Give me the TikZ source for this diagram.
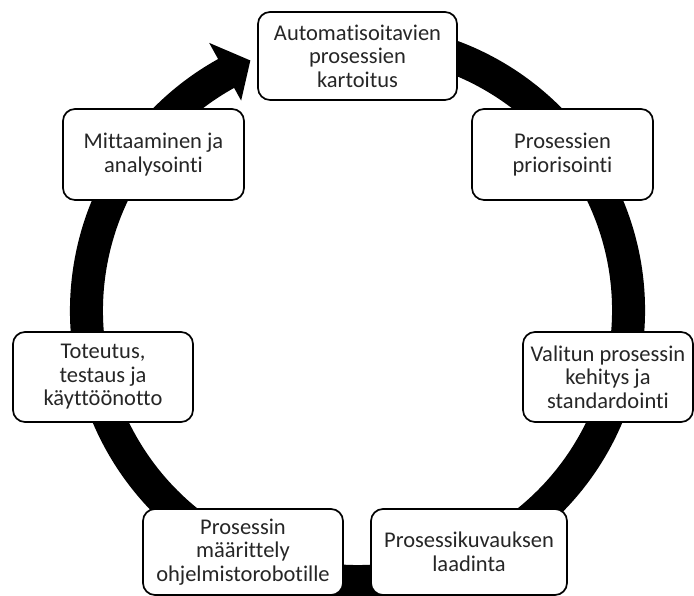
\documentclass[tikz,border=0pt]{standalone}
\usepackage{fontspec}
\setmainfont{Carlito}[Ligatures={NoCommon}]
\usetikzlibrary{calc}
\tikzset{vaihe/.style={draw,fill=white,rounded corners=0.3cm,line width=1.2pt,
  align=center,inner sep=1pt,text=black!85,font=\fontsize{16}{16.7}\selectfont}}

\begin{document}
\begin{tikzpicture}
\useasboundingbox (0,0) rectangle (17.35,14.9);
\coordinate (c) at (8.9375,7.1375);
% kehä ja nuolenkärki
\fill (c) ++(80:7.1875) arc[start angle=80,end angle=-241,radius=7.1875]
  -- ($(c)+(119:7.65)$) -- ($(c)+(113.2:6.8)$) -- ($(c)+(119:6.0)$)
  -- ($(c)+(119:6.3625)$) arc[start angle=-241,end angle=80,radius=6.3625]
  -- cycle;
% vaiheet
\node[vaihe,minimum width=4.975cm,minimum height=2.2cm] (kartoitus) at (8.9375,13.5)
  {Automatisoitavien\\prosessien\\kartoitus};
\node[vaihe,minimum width=4.525cm,minimum height=2.275cm] (priorisointi) at (14.0625,11.0375)
  {Prosessien\\priorisointi};
\node[vaihe,minimum width=4.25cm,minimum height=2.25cm] (kehitys) at (15.2,5.475)
  {Valitun prosessin\\kehitys ja\\standardointi};
\node[vaihe,minimum width=4.9cm,minimum height=2.15cm] (laadinta) at (11.725,1.1)
  {Prosessikuvauksen\\laadinta};
\node[vaihe,minimum width=5cm,minimum height=2.15cm] (maarittely) at (6.075,1.1)
  {Prosessin\\määrittely\\ohjelmistorobotille};
\node[vaihe,minimum width=4.5cm,minimum height=2.25cm] (toteutus) at (2.575,5.475)
  {Toteutus,\\testaus ja\\käyttöönotto};
\node[vaihe,minimum width=4.525cm,minimum height=2.275cm] (mittaaminen) at (3.8375,11.0375)
  {Mittaaminen ja\\analysointi};
\end{tikzpicture}
\end{document}
